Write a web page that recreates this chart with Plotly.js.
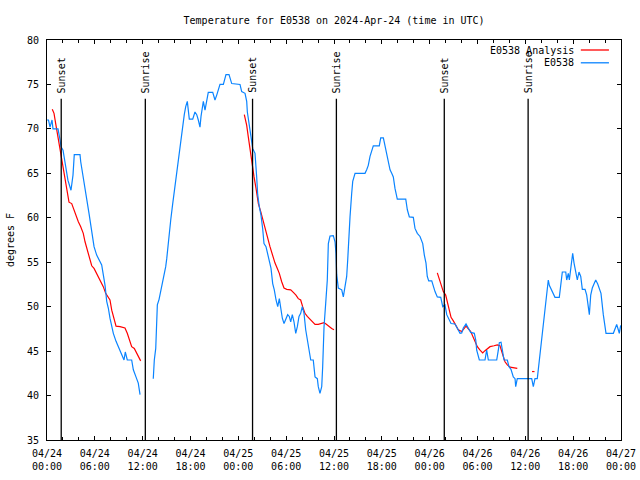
<!DOCTYPE html>
<html>
<head>
<meta charset="utf-8">
<script src="https://cdn.plot.ly/plotly-3.0.1.min.js"></script>
<style>html,body{margin:0;padding:0;background:#fff;}#chart{width:640px;height:480px;}</style>
</head>
<body>
<div id="chart"></div>
<script>
// Hours since 2024-04-24 00:00 UTC; null marks a gap in the record
const obsHours = [0,0.19,0.38,0.63,0.75,1.38,1.63,1.76,2.01,2.38,2.63,3.01,3.26,3.42,4.14,4.23,4.48,4.68,4.98,5.27,5.52,5.73,5.90,6.23,6.56,6.86,7.06,7.28,7.49,7.69,7.90,8.12,8.32,8.66,8.94,9.16,9.50,9.66,9.82,10.07,10.62,10.83,11.16,11.45,11.67,
 null,
 13.33,13.46,13.64,13.76,13.84,14.05,14.26,14.46,14.68,14.89,15.02,15.14,15.30,15.52,15.77,15.93,16.18,16.39,16.60,16.81,17.02,17.22,17.40,17.60,17.85,18.28,18.56,18.78,18.98,19.19,19.32,19.61,19.82,20.03,20.23,20.79,21.07,21.29,21.54,21.70,22.12,22.45,22.83,23.17,24.21,24.42,24.84,25.05,25.13,25.38,25.59,25.80,26.09,26.30,26.43,26.63,26.84,27.05,27.22,27.47,27.68,27.89,28.10,28.31,28.51,28.73,28.94,29.14,29.32,29.52,29.73,29.94,30.19,30.39,30.57,30.77,30.98,31.20,31.40,31.61,31.82,32.02,32.24,32.45,32.65,32.87,33.08,33.40,33.62,33.91,34.03,34.24,34.46,34.58,34.75,34.96,35.16,35.29,35.50,35.91,36.13,36.25,36.34,36.54,36.97,37.17,37.38,37.59,37.72,37.88,38.01,38.22,38.35,38.64,39.89,40.10,40.30,40.52,40.73,40.93,41.68,41.86,42.19,42.40,42.61,42.81,43.03,43.24,43.44,43.65,43.94,45.00,45.20,45.45,45.95,46.16,46.45,46.79,47.13,47.33,47.54,47.70,47.88,48.26,48.46,48.67,48.96,49.39,49.64,49.92,50.14,50.46,50.68,51.18,51.59,51.81,52.02,52.22,52.56,52.85,53.15,53.60,53.78,53.90,54.23,54.94,55.15,55.36,56.41,56.61,56.74,56.95,57.16,57.33,57.74,57.95,58.20,58.49,58.71,58.79,58.99,60.80,61.00,61.21,61.50,61.72,61.93,62.13,62.34,62.55,62.76,62.88,63.01,63.31,63.51,63.72,64.26,64.44,64.64,65.07,65.19,65.39,65.52,65.73,65.94,66.11,66.32,66.52,66.73,66.95,67.15,67.49,67.70,67.90,68.03,68.20,68.40,68.61,68.83,69.08,69.28,69.49,69.78,69.99,70.12,71.04,71.25,71.46,71.66,71.79,71.96];
const obsTemp = [71,71,70.2,71,70,70,68.8,68,67.6,65.6,64.2,63.1,64.8,67.1,67.1,66.3,65,63.9,62.4,60.5,59,57.5,56.75,55.8,55.25,54.7,53.6,52.4,50.6,49.85,48.7,47.75,47,46.1,45.5,44.9,44.2,44,44.9,44,44,42.9,42.1,41.4,40.1,
 null,
 41.9,44,45.3,48.1,50.2,50.8,51.7,52.25,53.4,54.5,55.4,56.55,57.6,59.75,61.6,62.75,64.25,65.75,67.1,68.75,70.1,71.6,72.5,73.1,71.1,71.1,71.9,71.6,71,70.2,71.4,73.1,72.1,73.4,74.1,74.1,73.25,73.8,74.6,75,75,76.1,76.1,75.1,75,74.2,74,73.1,71.9,70.6,69.1,67.8,67.25,64.6,62.6,61.25,60.3,58.8,57.1,56.75,55.8,55.25,54.3,52.6,51.9,50.75,50,50.9,49.6,48.7,48.1,48.5,49.1,48.9,48.3,49.1,48.3,47,47.75,48.9,49.25,50,49.25,47.4,46.25,44.75,44,44,42.1,41.9,41,40.25,41,43.25,47.75,50.4,53,57.1,57.95,58,57.3,56,53.6,52.1,51.9,51.1,52.25,53.4,55.25,58.25,60.1,62.75,64.1,65,65,65.4,65.9,66.9,67.6,68.1,68.1,69,69,68,67.25,66.3,65.4,65,64.6,63.3,62.1,62.1,60.9,60.1,60.05,58.8,58.25,57.9,57.1,55.8,54.9,53.4,52.9,52.9,52.25,51.7,51.1,51.05,50,50.2,49.1,48.5,48.1,48.05,47.4,47,47.05,47.6,48.05,47.6,47.1,47,46.25,45.1,44,44,45.1,44,44,45.1,45.95,46,44.9,44,44,43.25,42.95,42.1,41.9,41,41.9,41.9,41,41.9,41.9,43.6,45.7,47.2,48.3,50,51.5,53,52.4,51.9,51.5,51.05,51.05,52.4,53.9,53.9,53,53.75,53,54.5,56,54.9,54.1,53,53.9,53.4,51.95,51.95,51.3,50,49.1,51.3,52.1,52.55,53,52.55,52.1,51.5,49.1,47.6,47,47,47.6,48,47.4,47,47.9];

const anaHours = [0.66,0.88,1.09,1.29,1.51,1.72,1.92,2.13,2.35,2.55,2.76,3.10,3.30,3.60,3.93,4.23,4.55,4.77,4.98,5.18,5.39,5.61,5.90,6.23,6.65,7.06,7.36,7.61,7.90,8.12,8.40,8.66,9.16,9.78,10.07,10.41,10.62,10.95,11.25,11.75,
 null,
 24.75,25.05,25.25,25.46,25.75,25.97,26.22,26.51,26.81,27.06,27.35,27.63,27.97,28.26,28.60,28.89,29.14,29.44,29.73,30.07,30.57,30.90,31.23,31.52,31.82,32.07,32.36,32.65,32.99,33.33,33.62,34.03,34.46,34.75,35.00,35.29,35.71,36.00,
 null,
 48.96,49.17,49.39,49.71,50.01,50.21,50.46,50.68,50.97,51.30,51.59,52.02,52.56,53.15,53.44,53.69,53.98,54.32,54.65,54.94,55.28,55.57,56.07,56.48,56.82,57.03,57.23,57.45,57.74,58.08,58.58,58.99,
 null,
 60.84,61.15];
const anaTemp = [72.2,71.75,70.6,69.5,68.4,67.1,66.1,65.2,63.9,62.75,61.75,61.6,61.05,60.5,59.55,59,58.25,57.3,56.6,56,55.1,54.6,54.3,53.75,53,52.25,51.5,51.1,50.75,49.6,48.7,47.8,47.75,47.6,47,46.1,45.5,45.3,44.75,43.9,
 null,
 71.6,70.4,69.1,67.6,66.1,64.6,63.3,61.6,60.7,59.75,58.8,57.9,56.75,55.8,54.9,54.3,53.75,52.8,52.1,51.95,51.9,51.6,51.3,50.9,50.75,50,49.25,48.9,48.6,48.2,48,48,48.1,48.2,48.05,47.8,47.55,47.4,
 null,
 53.8,53.2,52.4,51.7,51.3,50.6,49.6,48.8,48.4,47.9,47.4,47.2,47.8,47.2,46.6,46,45.5,45.1,44.8,45.05,45.3,45.5,45.6,45.7,45.6,45.1,44.4,43.8,43.45,43.2,43.15,43.05,
 null,
 42.7,42.7];

const sunEvents = ["Sunset","Sunrise","Sunset","Sunrise","Sunset","Sunrise"];
const sunTimes = ["2024-04-24 01:47","2024-04-24 12:20","2024-04-25 01:47","2024-04-25 12:18","2024-04-26 01:50","2024-04-26 12:21"];

const seriesNames = ["E0538 Analysis","E0538"];
const seriesColors = ["#ff0000","#0a84ff"];

function toDate(h){
  if (h === null) return null;
  const d = new Date(Date.UTC(2024,3,24) + Math.round(h*3600000));
  const p = n => String(n).padStart(2,'0');
  return d.getUTCFullYear()+'-'+p(d.getUTCMonth()+1)+'-'+p(d.getUTCDate())+' '+p(d.getUTCHours())+':'+p(d.getUTCMinutes())+':'+p(d.getUTCSeconds());
}

const FONT = "DejaVu Sans Mono, Liberation Mono, monospace";

const traces = [
  {x: anaHours.map(toDate), y: anaTemp, type:'scatter', mode:'lines', name: seriesNames[0],
   line:{color:seriesColors[0], width:1.2}, connectgaps:false, showlegend:false},
  {x: obsHours.map(toDate), y: obsTemp, type:'scatter', mode:'lines', name: seriesNames[1],
   line:{color:seriesColors[1], width:1.2}, connectgaps:false, showlegend:false}
];

const shapes = [];
const annotations = [];
sunTimes.forEach((t,i)=>{
  shapes.push({type:'line', xref:'x', yref:'y', x0:t, x1:t, y0:35, y1:73.4, line:{color:'black', width:1.3}});
  annotations.push({xref:'x', yref:'y', x:t, y:73.9, text:sunEvents[i], textangle:-90, showarrow:false,
    xanchor:'center', yanchor:'bottom', font:{family:FONT, size:10, color:'black'}, borderpad:0});
});
// legend drawn gnuplot-style: text then line sample
const legY = [0.975, 0.943];
seriesNames.forEach((n,i)=>{
  annotations.push({xref:'paper', yref:'paper', x:0.92, y:legY[i], text:n, showarrow:false,
    xanchor:'right', yanchor:'middle', font:{family:FONT, size:10, color:'black'}, borderpad:0});
  shapes.push({type:'line', xref:'paper', yref:'paper', x0:0.930, x1:0.979, y0:legY[i], y1:legY[i], line:{color:seriesColors[i], width:1.3}});
});

const layout = {
  width:640, height:480,
  margin:{l:47, r:19, t:40, b:40},
  paper_bgcolor:'#fff', plot_bgcolor:'#fff',
  font:{family:FONT, size:10, color:'black'},
  title:{text:'Temperature for E0538 on 2024-Apr-24 (time in UTC)', x:0.522, xanchor:'center', y:0.958, yanchor:'middle', yref:'container', font:{family:FONT, size:10}},
  showlegend:false,
  xaxis:{type:'date', range:['2024-04-24 00:00','2024-04-27 00:00'], tick0:'2024-04-24 00:00', dtick:6*3600000,
    tickformat:'%m/%d<br>%H:%M', ticks:'inside', ticklen:4, tickcolor:'black',
    minor:{dtick:2*3600000, ticks:'inside', ticklen:3, tickcolor:'black'},
    showline:true, mirror:'allticks', linecolor:'black', linewidth:1, showgrid:false, zeroline:false,
    tickfont:{family:FONT, size:10}, ticklabelstandoff:4},
  yaxis:{range:[35,80], dtick:5, tick0:35, ticks:'inside', ticklen:4, tickcolor:'black',
    showline:true, mirror:'allticks', linecolor:'black', linewidth:1, showgrid:false, zeroline:false,
    tickfont:{family:FONT, size:10}, ticklabelstandoff:5,
    title:{text:'degrees F', font:{family:FONT, size:10}, standoff:10}},
  shapes:shapes, annotations:annotations
};

Plotly.newPlot('chart', traces, layout, {staticPlot:true, displayModeBar:false});
</script>
</body>
</html>
